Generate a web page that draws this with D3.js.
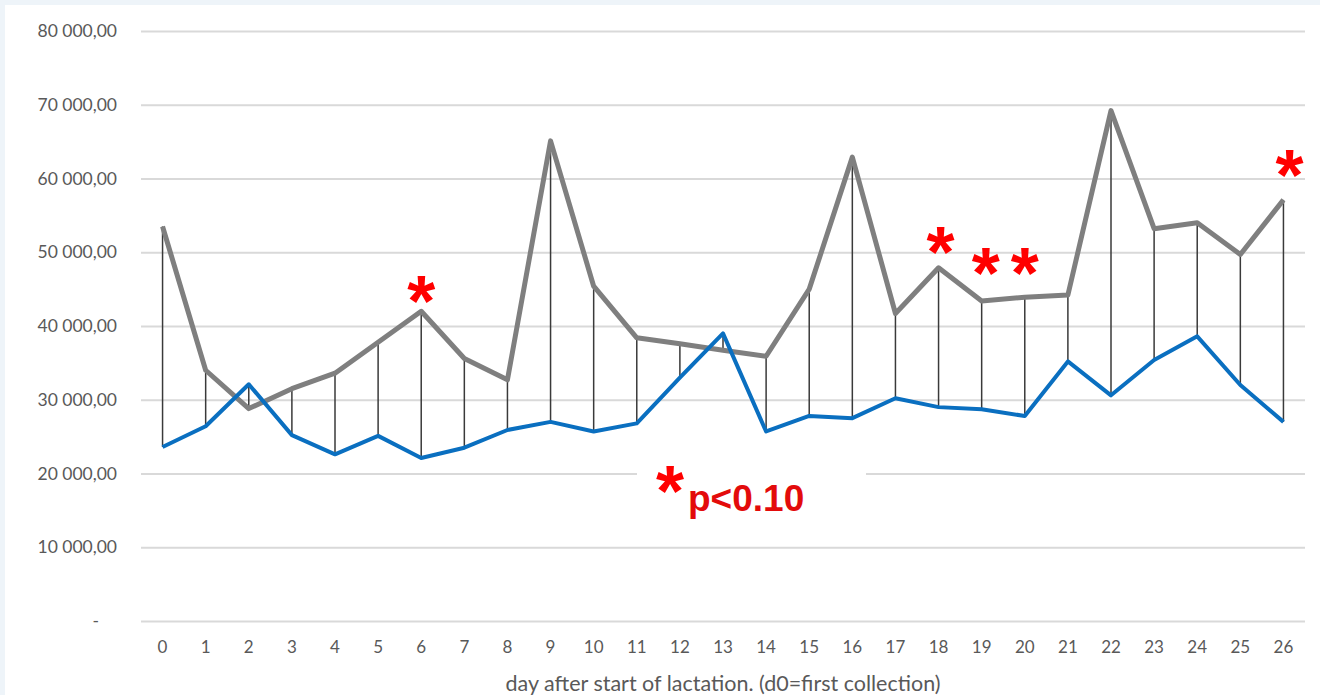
<!DOCTYPE html>
<html>
<head>
<meta charset="utf-8">
<script src="https://cdn.jsdelivr.net/npm/d3@7"></script>
<style>
  body { margin: 0; background: #eef4f9; }
  svg { display: block; }
</style>
</head>
<body>
<div id="chart"></div>
<script>
// data
var days = d3.range(0, 27);
var grayValues = [53500, 34000, 28800, 31500, 33600, 37800, 42000, 35600, 32700, 65100,
                  45400, 38400, 37600, 36700, 35900, 45000, 62900, 41700, 47900, 43400,
                  43900, 44200, 69200, 53200, 54000, 49700, 57100];
var blueValues = [23600, 26400, 32100, 25200, 22600, 25100, 22100, 23500, 25900, 27000,
                  25700, 26800, 33000, 39000, 25700, 27800, 27500, 30200, 29000, 28700,
                  27800, 35200, 30600, 35400, 38600, 32000, 27000];
var yTicks = [0, 10000, 20000, 30000, 40000, 50000, 60000, 70000, 80000];
var starDays = [6, 18, 19, 20, 26];
var starLevels = [44900, 51500, 48700, 48700, 61900];
var xTitle = 'day after start of lactation. (d0=first collection)';
var legendText = 'p<0.10';

var width = 1320, height = 695;
var plotLeft = 141, plotRight = 1305, plotTop = 31, plotBottom = 621;

var svg = d3.select('#chart').append('svg')
    .attr('width', width)
    .attr('height', height);

// white panel
svg.append('rect')
    .attr('x', 5).attr('y', 5)
    .attr('width', width - 5).attr('height', height - 5)
    .attr('fill', '#ffffff');

var x = d3.scaleBand().domain(days).range([plotLeft, plotRight]);
var cx = function (d) { return x(d) + x.bandwidth() / 2; };
var y = d3.scaleLinear().domain([0, 80000]).range([plotBottom, plotTop]);

var loc = d3.formatLocale({ decimal: ',', thousands: '\u00a0', grouping: [3], currency: ['', ''] });
var fmt = loc.format(',.2f');

// y axis with gridlines
var yAxis = svg.append('g')
    .attr('transform', 'translate(' + plotLeft + ',0)')
    .call(d3.axisLeft(y).tickValues(yTicks)
        .tickSize(-(plotRight - plotLeft))
        .tickPadding(24)
        .tickFormat(function (d) { return d === 0 ? '-' : fmt(d); }));
yAxis.select('.domain').remove();
yAxis.selectAll('line').attr('stroke', '#d9d9d9').attr('stroke-width', 2);
yAxis.selectAll('text')
    .attr('fill', '#595959')
    .style('font-family', 'Lato, "Open Sans", sans-serif')
    .style('font-size', '17.5px');
yAxis.selectAll('.tick').filter(function (d) { return d === 0; }).select('text')
    .attr('dx', -18);

// x axis labels
var xAxis = svg.append('g')
    .attr('transform', 'translate(0,' + plotBottom + ')')
    .call(d3.axisBottom(x).tickSize(0).tickPadding(20));
xAxis.select('.domain').remove();
xAxis.selectAll('text')
    .attr('fill', '#595959')
    .style('font-family', 'Lato, "Open Sans", sans-serif')
    .style('font-size', '17px');

svg.append('text')
    .attr('x', (plotLeft + plotRight) / 2)
    .attr('y', 691)
    .attr('text-anchor', 'middle')
    .attr('fill', '#595959')
    .style('font-family', 'Lato, "Open Sans", sans-serif')
    .style('font-size', '21.5px')
    .text(xTitle);

// drop lines between the two series
svg.selectAll('line.drop')
    .data(days).enter()
    .append('line')
    .attr('class', 'drop')
    .attr('x1', cx).attr('x2', cx)
    .attr('y1', function (d, i) { return y(grayValues[i]); })
    .attr('y2', function (d, i) { return y(blueValues[i]); })
    .attr('stroke', '#3a3a3a')
    .attr('stroke-width', 1.5);

var line = d3.line()
    .x(function (d, i) { return cx(days[i]); })
    .y(function (d) { return y(d); });

svg.append('path')
    .datum(grayValues)
    .attr('d', line)
    .attr('fill', 'none')
    .attr('stroke', '#7f7f7f')
    .attr('stroke-width', 5)
    .attr('stroke-linejoin', 'round');

svg.append('path')
    .datum(blueValues)
    .attr('d', line)
    .attr('fill', 'none')
    .attr('stroke', '#0a6fc0')
    .attr('stroke-width', 4)
    .attr('stroke-linejoin', 'round');

// significance stars
svg.selectAll('text.star')
    .data(starDays).enter()
    .append('text')
    .attr('class', 'star')
    .attr('x', function (d) { return cx(d) + (d === 26 ? 6 : d === 19 ? 4 : d === 18 ? 2 : 0); })
    .attr('y', function (d, i) { return y(starLevels[i]) + 36; })
    .attr('text-anchor', 'middle')
    .attr('fill', '#ff0000')
    .style('font-family', '"Liberation Sans", Arial, sans-serif')
    .style('font-weight', 'bold')
    .style('font-size', '72px')
    .text('*');

// legend box
var lg = svg.append('g');
lg.append('rect')
    .attr('x', 637).attr('y', 452)
    .attr('width', 229).attr('height', 70)
    .attr('fill', '#ffffff');
lg.append('text')
    .attr('x', 670).attr('y', 516)
    .attr('text-anchor', 'middle')
    .attr('fill', '#ff0000')
    .style('font-family', '"Liberation Sans", Arial, sans-serif')
    .style('font-weight', 'bold')
    .style('font-size', '72px')
    .text('*');
lg.append('text')
    .attr('x', 688).attr('y', 511)
    .attr('fill', '#e30b0b')
    .style('font-family', '"Liberation Sans", Arial, sans-serif')
    .style('font-weight', 'bold')
    .style('font-size', '37px')
    .text(legendText);
</script>
</body>
</html>
